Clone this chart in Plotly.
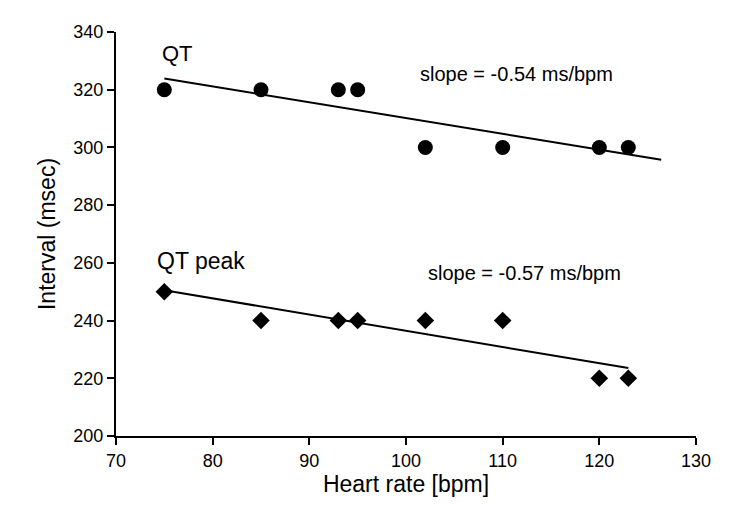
import numpy as np
import plotly.graph_objects as go

heart_rate = [75, 85, 93, 95, 102, 110, 120, 123]
qt_values = [320, 320, 320, 320, 300, 300, 300, 300]
qt_peak_values = [250, 240, 240, 240, 240, 240, 220, 220]
qt_fit_range = [75, 126.4]
peak_fit_range = [75, 123]
x_ticks = [70, 80, 90, 100, 110, 120, 130]
y_ticks = [200, 220, 240, 260, 280, 300, 320, 340]

qt_slope, qt_int = np.polyfit(heart_rate, qt_values, 1)
pk_slope, pk_int = np.polyfit(heart_rate, qt_peak_values, 1)

fig = go.Figure()
fig.add_trace(go.Scatter(x=qt_fit_range, y=[qt_slope * x + qt_int for x in qt_fit_range],
                         mode="lines", line=dict(color="black", width=2), showlegend=False))
fig.add_trace(go.Scatter(x=peak_fit_range, y=[pk_slope * x + pk_int for x in peak_fit_range],
                         mode="lines", line=dict(color="black", width=2), showlegend=False))
fig.add_trace(go.Scatter(x=heart_rate, y=qt_values, mode="markers",
                         marker=dict(symbol="circle", size=15, color="black"), showlegend=False))
fig.add_trace(go.Scatter(x=heart_rate, y=qt_peak_values, mode="markers",
                         marker=dict(symbol="diamond", size=13.5, color="black"), showlegend=False))

font = "Liberation Sans, Arial, sans-serif"
ann = [
    dict(x=76.4, y=332.5, text="QT", size=22),
    dict(x=78.8, y=260.8, text="QT peak", size=23),
    dict(x=111.4, y=325.6, text="slope = -0.54 ms/bpm", size=20),
    dict(x=112.3, y=256.6, text="slope = -0.57 ms/bpm", size=20),
]
for a in ann:
    fig.add_annotation(x=a["x"], y=a["y"], text=a["text"], showarrow=False,
                       font=dict(family=font, size=a["size"], color="black"))

fig.update_layout(
    width=750, height=513,
    margin=dict(l=108, r=62, t=24, b=85),
    plot_bgcolor="white", paper_bgcolor="white",
    font=dict(family=font, color="black"),
    xaxis=dict(range=[70, 130], tickvals=x_ticks, showgrid=False, zeroline=False,
               showline=True, linecolor="black", linewidth=2, ticks="outside",
               ticklen=7, tickwidth=2, tickcolor="black", tickfont=dict(size=18),
               title=dict(text="Heart rate [bpm]", font=dict(size=23), standoff=4)),
    yaxis=dict(range=[200, 340], tickvals=y_ticks, showgrid=False, zeroline=False,
               showline=True, linecolor="black", linewidth=2, ticks="outside",
               ticklen=7, tickwidth=2, tickcolor="black", tickfont=dict(size=18),
               title=dict(text="Interval (msec)", font=dict(size=23), standoff=11)),
)
fig.write_html("out.html")
